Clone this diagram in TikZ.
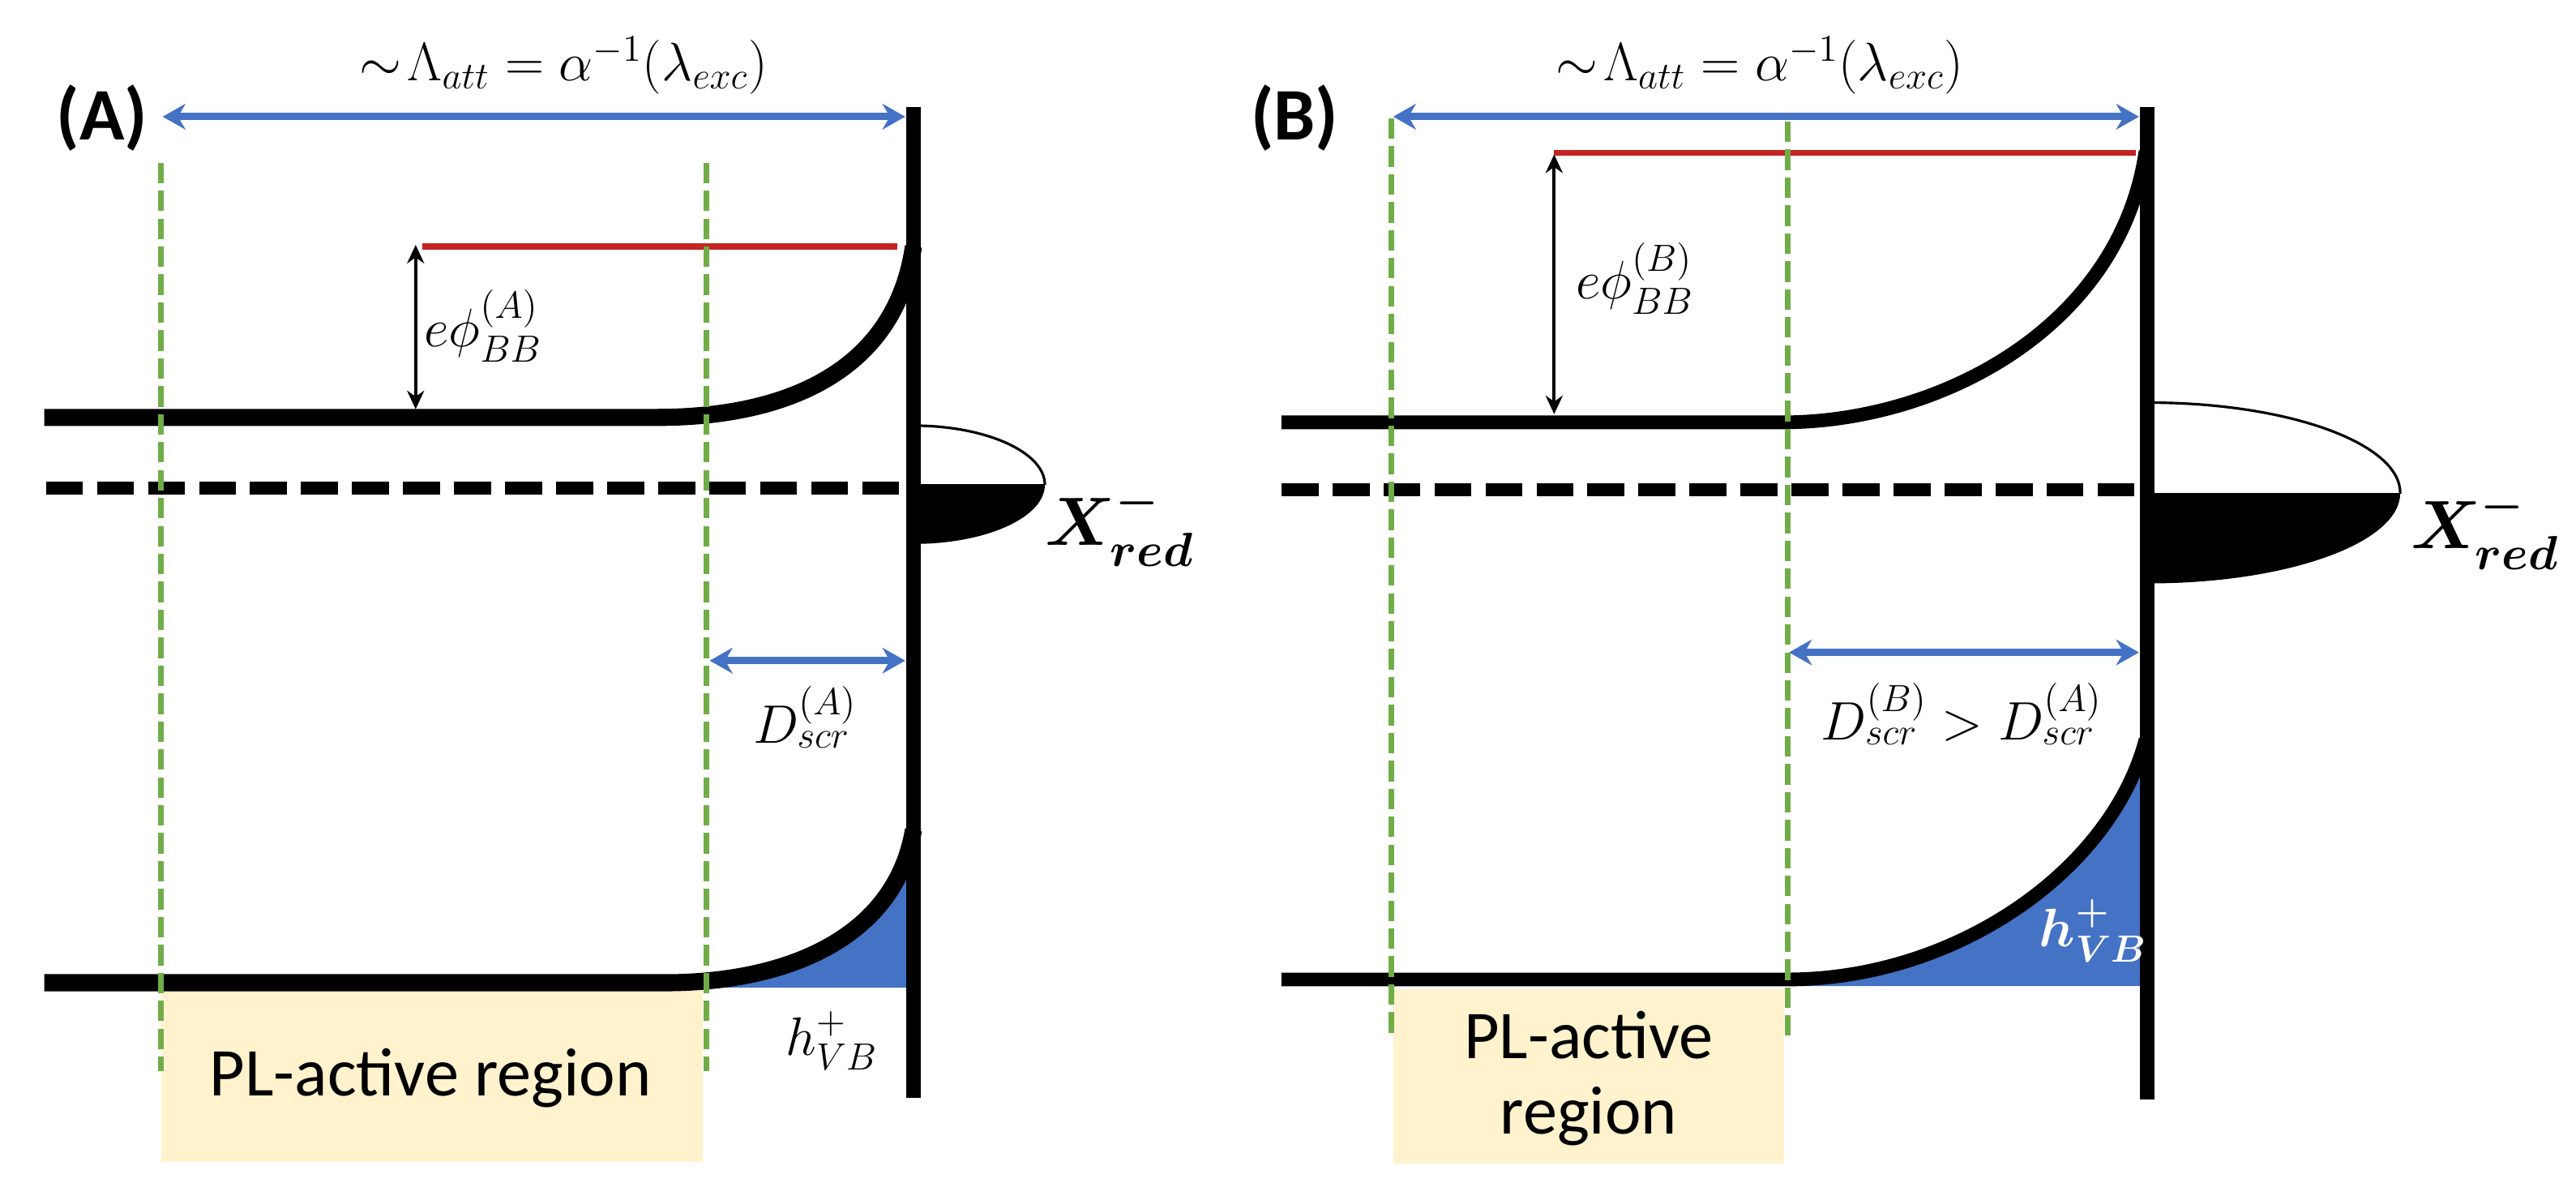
\documentclass[tikz,border=0pt]{standalone}
\usepackage{fix-cm}
\usepackage{amsmath}
\usepackage{bm}
\usepackage[no-math]{fontspec}
\setmainfont{Carlito}
\usetikzlibrary{arrows.meta}

\definecolor{dimblue}{RGB}{68,114,196}
\definecolor{holeblue}{RGB}{68,114,196}
\definecolor{regiongreen}{RGB}{112,173,71}
\definecolor{levelred}{RGB}{196,36,36}
\definecolor{plyellow}{RGB}{255,242,204}

\tikzset{
  bandA/.style={line width=6pt, line join=round},
  bandB/.style={line width=4.8pt, line join=round},
  surface/.style={line width=5pt},
  fermi/.style={line width=4.3pt, dash pattern=on 13pt off 4.9pt},
  greendash/.style={regiongreen, line width=2pt, dash pattern=on 7.2pt off 2.6pt},
  dimarrow/.style={dimblue, line width=2.5pt, {Stealth[length=8pt,width=9pt]}-{Stealth[length=8pt,width=9pt]}},
  phiarrow/.style={line width=1.2pt, {Stealth[length=6.5pt,width=6pt]}-{Stealth[length=6.5pt,width=6pt]}},
  redlevel/.style={levelred, line width=2.2pt},
  mathlbl/.style={font=\fontsize{19}{23}\selectfont, inner sep=0pt},
  xlbl/.style={font=\fontsize{24}{28}\selectfont, inner sep=0pt},
  panellbl/.style={font=\fontsize{26}{30}\selectfont\bfseries, inner sep=0pt},
  pltext/.style={font=\fontsize{24}{26.6}\selectfont, inner sep=0pt},
  statesline/.style={line width=0.9pt},
}

\begin{document}
\begin{tikzpicture}[x=0.020268cm, y=-0.020268cm]
\useasboundingbox (0,0) rectangle (1568,719.4);

%================ Panel A ================
\fill[plyellow] (98,603) rectangle (428,707);
\node[pltext, anchor=base] (plA) at (262,667) {PL-active region};

% holes in valence band
\fill[holeblue] (405,598) .. controls (480,598) and (545,570) .. (556,505) -- (556,601) -- (405,601) -- cycle;

% conduction and valence bands
\draw[bandA] (27,254) -- (400,254) .. controls (480,254) and (545,225) .. (556,150);
\draw[bandA] (27,598) -- (405,598) .. controls (480,598) and (545,570) .. (556,505);

% Fermi level
\draw[fermi] (28,297) -- (552,297);

% surface states
\begin{scope}
  \clip (556,295) rectangle (660,340);
  \fill (556,295) ellipse [x radius=80, y radius=36];
\end{scope}
\begin{scope}
  \clip (556,250) rectangle (660,295);
  \draw[statesline] (556,295) ellipse [x radius=80, y radius=36];
\end{scope}

% red level
\draw[redlevel] (257,150) -- (546,150);

% green dashed boundaries
\draw[greendash] (98,99) -- (98,652);
\draw[greendash] (430,99) -- (430,652);

% surface
\draw[surface] (556,65) -- (556,668);

% arrows
\coordinate (tlA) at (99,71);
\coordinate (trA) at (551,71);
\draw[dimarrow] (tlA) -- (trA);
\coordinate (dlA) at (432,402);
\coordinate (drA) at (551,402);
\draw[dimarrow] (dlA) -- (drA);
\coordinate (ptA) at (253,149);
\coordinate (pbA) at (253,249);
\draw[phiarrow] (ptA) -- (pbA);

% labels
\node[panellbl] (labA) at (62,72) {(A)};
\node[mathlbl, anchor=base] (lamA) at (343,49) {$\sim\!\Lambda_{att} = \alpha^{-1}(\lambda_{exc})$};
\node[mathlbl, anchor=base west] (phiA) at (258,211) {$e\phi_{BB}^{(A)}$};
\node[mathlbl, anchor=base] (dA) at (490,452) {$D_{scr}^{(A)}$};
\node[mathlbl, anchor=base west] (hA) at (478,642) {$h_{VB}^{+}$};
\node[xlbl, anchor=base west] (xA) at (636,332) {$\bm{X^{-}_{red}}$};

%================ Panel B ================
\fill[plyellow] (848,602) rectangle (1086,708);
\node[pltext, anchor=base] (plB1) at (967,644) {PL-active};
\node[pltext, anchor=base] (plB2) at (967,690) {region};

\fill[holeblue] (1088,596) .. controls (1190,596) and (1285,530) .. (1306,450) -- (1306,600) -- (1088,600) -- cycle;

\draw[bandB] (780,257) -- (1085,257) .. controls (1180,257) and (1290,200) .. (1306,92);
\draw[bandB] (780,596) -- (1088,596) .. controls (1190,596) and (1285,530) .. (1306,450);

\draw[fermi] (780,298) -- (1303,298);

\begin{scope}
  \clip (1308,300) rectangle (1480,370);
  \fill (1308,300) ellipse [x radius=153, y radius=55];
\end{scope}
\begin{scope}
  \clip (1308,235) rectangle (1480,300);
  \draw[statesline] (1308,300) ellipse [x radius=153, y radius=55];
\end{scope}

\draw[redlevel] (946,93) -- (1300,93);

\draw[greendash] (847,72) -- (847,630);
\draw[greendash] (1088,74) -- (1088,630);

\draw[surface] (1307,65) -- (1307,669);

\coordinate (tlB) at (848,71);
\coordinate (trB) at (1302,71);
\draw[dimarrow] (tlB) -- (trB);
\coordinate (dlB) at (1089,397);
\coordinate (drB) at (1302,397);
\draw[dimarrow] (dlB) -- (drB);
\coordinate (ptB) at (946,94);
\coordinate (pbB) at (946,252);
\draw[phiarrow] (ptB) -- (pbB);

\node[panellbl] (labB) at (788,72) {(B)};
\node[mathlbl, anchor=base] (lamB) at (1071,49) {$\sim\!\Lambda_{att} = \alpha^{-1}(\lambda_{exc})$};
\node[mathlbl, anchor=base west] (phiB) at (959,182) {$e\phi_{BB}^{(B)}$};
\node[mathlbl, anchor=base] (dB) at (1194,450) {$D_{scr}^{(B)} > D_{scr}^{(A)}$};
\node[mathlbl, anchor=base west, text=white] (hB) at (1241,576) {$\bm{h_{VB}^{+}}$};
\node[xlbl, anchor=base west] (xB) at (1467,334) {$\bm{X^{-}_{red}}$};

\end{tikzpicture}
\end{document}
